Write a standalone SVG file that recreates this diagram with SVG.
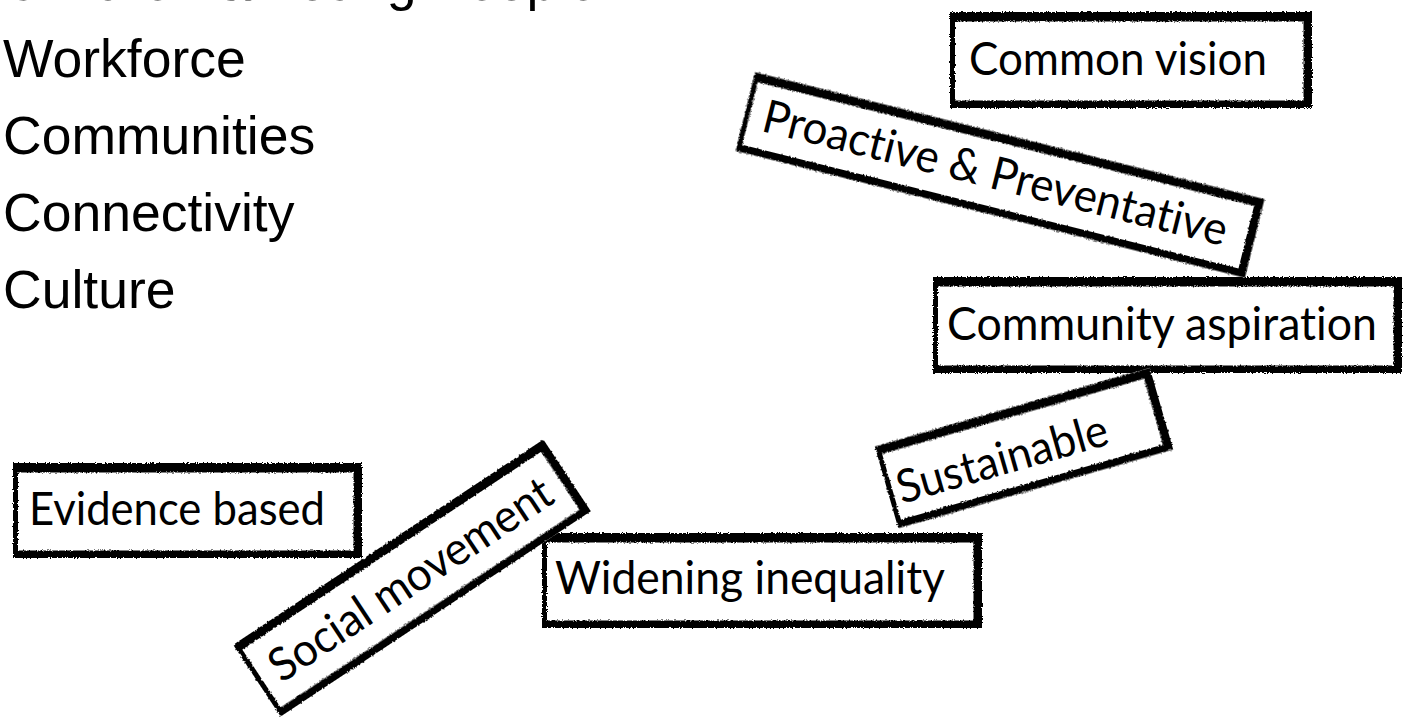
<svg xmlns="http://www.w3.org/2000/svg" width="1404" height="725" viewBox="0 0 1404 725">
<defs>
<filter id="rough" x="-10%" y="-20%" width="120%" height="140%">
<feTurbulence type="fractalNoise" baseFrequency="0.7" numOctaves="2" seed="4" result="n"/>
<feDisplacementMap in="SourceGraphic" in2="n" scale="3.5" xChannelSelector="R" yChannelSelector="G" result="d"/>
<feGaussianBlur in="d" stdDeviation="0.6"/>
</filter>
</defs>
<style>
.side{font-family:"Liberation Sans",Arial,sans-serif;font-size:53.5px;fill:#000;}
.lbl{font-family:Lato,"Open Sans","Noto Sans",sans-serif;font-size:46px;fill:#000;text-anchor:middle;font-variant-ligatures:none;font-feature-settings:"liga" 0,"clig" 0,"dlig" 0;}
.paper{fill:#fff;}
.frame{fill:#050505;fill-rule:evenodd;filter:url(#rough);}
</style>
<rect x="0" y="0" width="1404" height="725" fill="#fff"/>

<g id="list">
<text class="side" x="3" y="0">Children &amp; Young People</text>
<text class="side" x="3" y="77">Workforce</text>
<text class="side" x="3" y="154">Communities</text>
<text class="side" x="3" y="231">Connectivity</text>
<text class="side" x="3" y="308">Culture</text>
</g>

<g id="connectors"></g>

<g id="evidence-based" transform="translate(187.5,510.5)">
<rect class="paper" x="-174.5" y="-47.5" width="349" height="95"/>
<path class="frame" d="M-174.5,-47.5 H174.5 V47.5 H-174.5 Z M-169.5,-38 V40 H166 V-38 Z"/>
<text class="lbl" x="-10.5" y="14" textLength="296" lengthAdjust="spacingAndGlyphs">Evidence based</text>
</g>

<g id="widening-inequality" transform="translate(762,580.5)">
<rect class="paper" x="-220" y="-47.5" width="440" height="95"/>
<path class="frame" d="M-220,-47.5 H220 V47.5 H-220 Z M-215,-38 V40 H211.5 V-38 Z"/>
<text class="lbl" x="-12" y="13" textLength="390" lengthAdjust="spacingAndGlyphs">Widening inequality</text>
</g>

<g id="social-movement" transform="translate(412,578) rotate(-33.5)">
<rect class="paper" x="-186" y="-43" width="372" height="86"/>
<path class="frame" d="M-186,-43 H186 V43 H-186 Z M-181,-34 V35.5 H177.5 V-34 Z"/>
<text class="lbl" x="-2" y="16" textLength="330" lengthAdjust="spacingAndGlyphs">Social movement</text>
</g>

<g id="community-aspiration" transform="translate(1167.5,325)">
<rect class="paper" x="-234.5" y="-48" width="469" height="96"/>
<path class="frame" d="M-234.5,-48 H234.5 V48 H-234.5 Z M-229.5,-38.5 V40.5 H226 V-38.5 Z"/>
<text class="lbl" x="-5.5" y="15" textLength="430" lengthAdjust="spacingAndGlyphs">Community aspiration</text>
</g>

<g id="sustainable" transform="translate(1024,448) rotate(-16)">
<rect class="paper" x="-143" y="-42.5" width="286" height="85"/>
<path class="frame" d="M-143,-42.5 H143 V42.5 H-143 Z M-138,-33.5 V35 H134.5 V-33.5 Z"/>
<text class="lbl" x="-24" y="20" textLength="218" lengthAdjust="spacingAndGlyphs">Sustainable</text>
</g>

<g id="common-vision" transform="translate(1131,60)">
<rect class="paper" x="-181" y="-48" width="362" height="96"/>
<path class="frame" d="M-181,-48 H181 V48 H-181 Z M-176,-38.5 V40.5 H172.5 V-38.5 Z"/>
<text class="lbl" x="-13" y="15" textLength="298" lengthAdjust="spacingAndGlyphs">Common vision</text>
</g>

<g id="proactive-preventative" transform="translate(1000,175) rotate(14)">
<rect class="paper" x="-262.5" y="-40.5" width="525" height="81"/>
<path class="frame" d="M-262.5,-40.5 H262.5 V40.5 H-262.5 Z M-257.5,-31.5 V33 H254 V-31.5 Z"/>
<text class="lbl" x="-5" y="15" textLength="477" lengthAdjust="spacingAndGlyphs">Proactive &amp; Preventative</text>
</g>
</svg>
